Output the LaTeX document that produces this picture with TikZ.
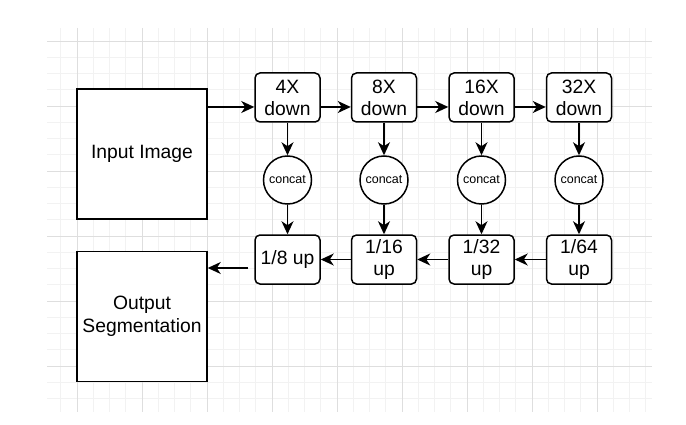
\documentclass[tikz,border=0pt]{standalone}
\usepackage{fontspec}
\setmainfont{Liberation Sans}
\usetikzlibrary{arrows.meta}
\definecolor{gridminor}{RGB}{242,242,242}
\definecolor{gridmajor}{RGB}{222,222,222}

\begin{document}
\begin{tikzpicture}[x=1pt,y=-1pt]
\tikzstyle{every node}+=[inner sep=0pt]
\tikzstyle{bigbox}=[draw=black,line width=1.5pt,fill=white,minimum width=130pt,minimum height=130pt,align=center,font=\fontsize{19.3}{23}\selectfont]
\tikzstyle{stagebox}=[draw=black,line width=1.5pt,fill=white,rounded corners=5pt,minimum width=65pt,minimum height=49pt,align=center,font=\fontsize{19.3}{22}\selectfont]
\tikzstyle{joinnode}=[draw=black,line width=1.5pt,fill=white,circle,minimum size=48pt,font=\fontsize{12.5}{14}\selectfont]
\tikzstyle{arr}=[line width=1.5pt,-{Stealth[length=13pt,width=12pt,inset=4pt]}]
\useasboundingbox (0,0) rectangle (686,425);
% background grid
\begin{scope}
\clip (47,28) rectangle (652,412);
\foreach \k in {-2,...,37} {
  \draw [gridminor,line width=0.8pt] (77+16.25*\k,28) -- (77+16.25*\k,412);
  \draw [gridminor,line width=0.8pt] (47,41+16.25*\k) -- (652,41+16.25*\k);
}
\foreach \k in {-1,...,9} {
  \draw [gridmajor,line width=0.8pt] (77+65*\k,28) -- (77+65*\k,412);
  \draw [gridmajor,line width=0.8pt] (47,41+65*\k) -- (652,41+65*\k);
}
\end{scope}
% big boxes
\node [bigbox] (input) at (142,154) {Input Image};
\node [bigbox] (output) at (142,316.5) {Output\\Segmentation};
% encoder row
\node [stagebox] (d4) at (287.5,97.5) {4X\\down};
\node [stagebox] (d8) at (384,97.5) {8X\\down};
\node [stagebox] (d16) at (481.5,97.5) {16X\\down};
\node [stagebox] (d32) at (579,97.5) {32X\\down};
% concat circles
\node [joinnode] (c4) at (287.5,180) {concat};
\node [joinnode] (c8) at (384,180) {concat};
\node [joinnode] (c16) at (481.5,180) {concat};
\node [joinnode] (c32) at (579,180) {concat};
% decoder row
\node [stagebox] (u8) at (287.5,259.5) {1/8 up};
\node [stagebox] (u16) at (384,259.5) {1/16\\up};
\node [stagebox] (u32) at (481.5,259.5) {1/32\\up};
\node [stagebox] (u64) at (579,259.5) {1/64\\up};
% arrows along the top
\coordinate (in4) at ([yshift=-9.5pt]d4.west);
\draw [arr] (input.east |- in4) -- (in4);
\draw [arr] ([yshift=-9.5pt]d4.east) -- ([yshift=-9.5pt]d8.west);
\draw [arr] ([yshift=-9.5pt]d8.east) -- ([yshift=-9.5pt]d16.west);
\draw [arr] ([yshift=-9.5pt]d16.east) -- ([yshift=-9.5pt]d32.west);
% arrows down
\draw [arr] (d4.south) -- (c4.north);
\draw [arr] (d8.south) -- (c8.north);
\draw [arr] (d16.south) -- (c16.north);
\draw [arr] (d32.south) -- (c32.north);
\draw [arr] (c4.south) -- (u8.north);
\draw [arr] (c8.south) -- (u16.north);
\draw [arr] (c16.south) -- (u32.north);
\draw [arr] (c32.south) -- (u64.north);
% arrows along the bottom
\draw [arr] (u64.west) -- (u32.east);
\draw [arr] (u32.west) -- (u16.east);
\draw [arr] (u16.west) -- (u8.east);
\coordinate (out8) at ([yshift=-8.5pt]u8.west);
\draw [arr,shorten <=6pt] (out8) -- (output.east |- out8);
\end{tikzpicture}
\end{document}
